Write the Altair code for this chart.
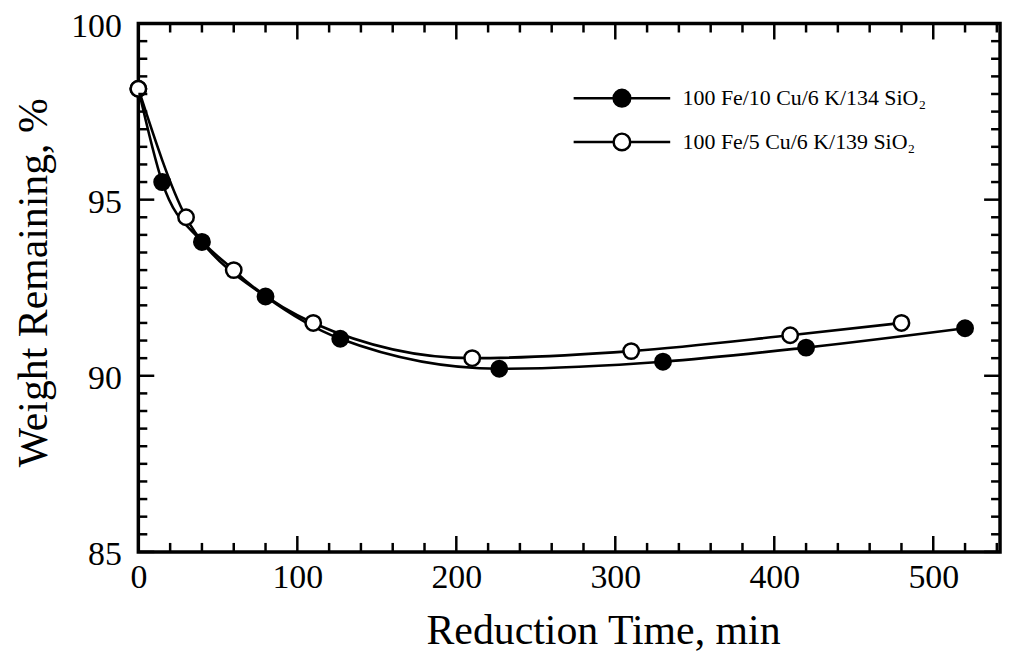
import altair as alt
import pandas as pd

# ---- data ----
S1 = "100 Fe/10 Cu/6 K/134 SiO₂"
S2 = "100 Fe/5 Cu/6 K/139 SiO₂"
t_filled = [0, 15, 40, 80, 127, 227, 330, 420, 520]
w_filled = [98.15, 95.5, 93.8, 92.25, 91.05, 90.2, 90.4, 90.8, 91.35]
t_open = [0, 30, 60, 110, 210, 310, 410, 480]
w_open = [98.15, 94.5, 93.0, 91.5, 90.5, 90.7, 91.15, 91.5]

x_major = [0, 100, 200, 300, 400, 500]
x_minor = [20, 40, 60, 80, 120, 140, 160, 180, 220, 240, 260, 280,
           320, 340, 360, 380, 420, 440, 460, 480, 520, 540]
y_major = [85, 90, 95, 100]
y_minor = [85.5, 86, 86.5, 87, 87.5, 88, 88.5, 89, 89.5,
           90.5, 91, 91.5, 92, 92.5, 93, 93.5, 94, 94.5,
           95.5, 96, 96.5, 97, 97.5, 98, 98.5, 99, 99.5]

W, H = 866, 531
FONT = "Liberation Serif"
MAJ, MIN = 16, 9
TW = 2.5

df = pd.DataFrame({
    "t": t_filled + t_open,
    "w": w_filled + w_open,
    "s": [S1] * len(t_filled) + [S2] * len(t_open),
})

xscale = alt.Scale(domain=[0, 542], nice=False, zero=False)
yscale = alt.Scale(domain=[85, 100], nice=False, zero=False)

x_axis = alt.Axis(values=x_major, title="Reduction Time, min", ticks=False, tickSize=0,
                  domain=False, grid=False, labelPadding=9, labelFlush=False,
                  labelOverlap=False, labelBound=False,
                  titleX=467, titleY=92, titleBaseline="alphabetic", titleAlign="center")
y_axis = alt.Axis(values=y_major, title="Weight Remaining, %", ticks=False, tickSize=0,
                  domain=False, grid=False, labelPadding=17, labelFlush=False,
                  labelOverlap=False, labelBound=False, labelOffset=3,
                  titleAngle=-90, titleX=-92, titleY=260, titleAlign="center",
                  titleBaseline="alphabetic")

base = alt.Chart(df)

lines = base.mark_line(color="black", strokeWidth=2.6, interpolate="monotone").encode(
    x=alt.X("t:Q", scale=xscale, axis=x_axis),
    y=alt.Y("w:Q", scale=yscale, axis=y_axis),
    detail="s:N",
)

PATH = "M-5.8,0L-1,0M1,0L5.8,0M-1,0A1,1,0,1,1,1,0A1,1,0,1,1,-1,0Z"

points = base.mark_circle(size=240, stroke="black", strokeWidth=2.5, opacity=1).encode(
    x=alt.X("t:Q", scale=xscale, axis=x_axis),
    y=alt.Y("w:Q", scale=yscale, axis=y_axis),
    fill=alt.Fill("s:N", scale=alt.Scale(domain=[S1, S2], range=["black", "white"]),
                  legend=alt.Legend(title=None, orient="none", legendX=475, legendY=64,
                                    symbolType=PATH, symbolSize=280,
                                    symbolStrokeColor="black", symbolStrokeWidth=2.5,
                                    symbolOpacity=1, labelLimit=0,
                                    labelFont=FONT, labelFontSize=22, labelColor="black",
                                    labelOffset=50, rowPadding=16, padding=0)),
)


def xticks(vals, length, top):
    d = pd.DataFrame({"t": vals})
    if top:
        yy = dict(y=alt.value(0), y2=alt.value(length))
    else:
        yy = dict(y=alt.value(H), y2=alt.value(H - length))
    return alt.Chart(d).mark_rule(color="black", strokeWidth=TW).encode(
        x=alt.X("t:Q", scale=xscale, axis=x_axis), **yy)


def yticks(vals, length, right):
    d = pd.DataFrame({"w": vals})
    if right:
        xx = dict(x=alt.value(W), x2=alt.value(W - length))
    else:
        xx = dict(x=alt.value(0), x2=alt.value(length))
    return alt.Chart(d).mark_rule(color="black", strokeWidth=TW).encode(
        y=alt.Y("w:Q", scale=yscale, axis=y_axis), **xx)


ticks = [
    xticks(x_major, MAJ, False), xticks(x_minor, MIN, False),
    xticks(x_major, MAJ, True), xticks(x_minor, MIN, True),
    yticks(y_major, MAJ, False), yticks(y_minor, MIN, False),
    yticks(y_major, MAJ, True), yticks(y_minor, MIN, True),
]

chart = alt.layer(lines, points, *ticks).properties(
    width=W, height=H,
    autosize=alt.AutoSizeParams(type="none"),
    padding={"left": 131, "top": 14, "right": 5, "bottom": 102},
    background="white",
).configure_view(
    stroke="black", strokeWidth=3.5
).configure_axis(
    labelFont=FONT, labelFontSize=34, labelColor="black",
    titleFont=FONT, titleFontSize=42, titleFontWeight="normal", titleColor="black",
)

chart.save("out.html", embed_options={"renderer": "svg", "actions": False})
